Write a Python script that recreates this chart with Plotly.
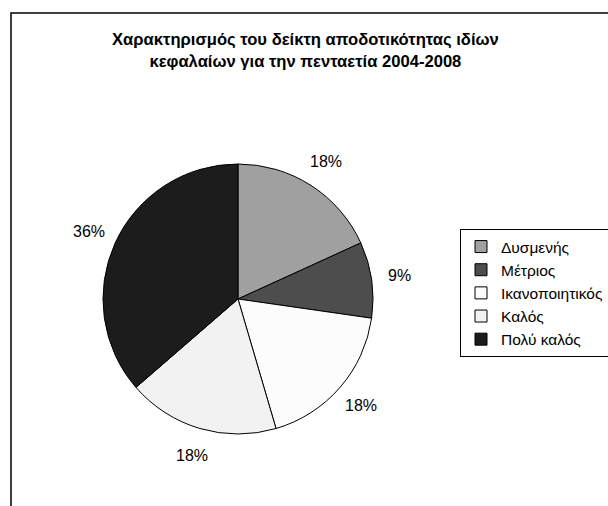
import math
import plotly.graph_objects as go

categories = ["Δυσμενής", "Μέτριος", "Ικανοποιητικός", "Καλός", "Πολύ καλός"]
values = [2, 1, 2, 2, 4]
colors = ["#A0A0A0", "#4D4D4D", "#FCFCFC", "#F2F2F2", "#1C1C1C"]
title_lines = ["Χαρακτηρισμός του δείκτη αποδοτικότητας ιδίων",
               "κεφαλαίων για την πενταετία 2004-2008"]

W, H = 608, 506
cx, cy, r = 238, 299, 135
FONT = "Liberation Sans, Arial"

fig = go.Figure(go.Pie(
    labels=categories, values=values, sort=False, direction="clockwise",
    rotation=0, marker=dict(colors=colors, line=dict(color="black", width=1)),
    textinfo="none", hoverinfo="label+percent",
    domain=dict(x=[(cx - r) / W, (cx + r) / W], y=[1 - (cy + r) / H, 1 - (cy - r) / H]),
))

total = sum(values)
cum = 0
ann = []
for v in values:
    mid = (cum + v / 2) / total * 2 * math.pi
    cum += v
    lr = r * 1.21
    px = cx + lr * math.sin(mid)
    py = cy - lr * math.cos(mid)
    ann.append(dict(x=px / W, y=1 - py / H, xref="paper", yref="paper",
                    xanchor="center", yanchor="middle",
                    text=f"{round(v / total * 100)}%", showarrow=False,
                    font=dict(size=16, color="black", family=FONT)))

ann.append(dict(x=305 / W, y=1 - 51 / H, xref="paper", yref="paper",
                xanchor="center", yanchor="middle",
                text="<b>" + "<br>".join(title_lines) + "</b>", showarrow=False,
                font=dict(size=16.6, color="black", family=FONT)))

fig.update_layout(
    width=W, height=H, margin=dict(l=0, r=0, t=0, b=0, autoexpand=False),
    paper_bgcolor="white", plot_bgcolor="white",
    font=dict(family=FONT, color="black"),
    annotations=ann,
    showlegend=True,
    legend=dict(x=460 / W, y=1 - 229 / H, xanchor="left", yanchor="top",
                bordercolor="black", borderwidth=1, bgcolor="white",
                font=dict(size=15.5, color="black"), traceorder="normal"),
    shapes=[dict(type="rect", xref="paper", yref="paper",
                 x0=11 / W, x1=1.05, y0=-0.05, y1=1 - 13 / H,
                 line=dict(color="black", width=1.5))],
)

fig.write_html("out.html", config={"displayModeBar": False},
               post_script="document.body.style.margin='0';document.body.style.overflow='hidden';")
